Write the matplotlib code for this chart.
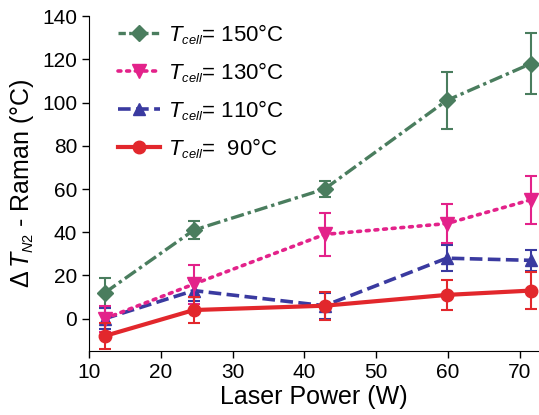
import numpy as np
import matplotlib
matplotlib.use("Agg")
import matplotlib.pyplot as plt
import matplotlib._mathtext as mtext

plt.rcParams['font.family'] = ['Liberation Sans', 'DejaVu Sans']
plt.rcParams['mathtext.fontset'] = 'custom'
plt.rcParams['mathtext.rm'] = 'Liberation Sans'
plt.rcParams['mathtext.it'] = 'Liberation Sans:italic'
# smaller subscripts, like the original figure
mtext.SHRINK_FACTOR = 0.58

# laser power (W)
power = [12.2, 24.6, 42.8, 59.8, 71.5]

# temperature difference and error bars for each cell temperature
t150 = [12, 41, 60, 101, 118]
e150 = [7, 4, 3.5, 13, 14]
t130 = [0, 16, 39, 44, 55]
e130 = [6, 9, 10, 9, 11]
t110 = [0, 13, 6, 28, 27]
e110 = [5, 5, 6, 6, 5]
t90 = [-8, 4, 6, 11, 13]
e90 = [6, 6, 6.5, 7, 8.5]

labels = [r'$T_{cell}$= 150°C', r'$T_{cell}$= 130°C',
          r'$T_{cell}$= 110°C', r'$T_{cell}$=  90°C']

fig = plt.figure(figsize=(5.39, 4.15), dpi=100)
ax = fig.add_axes([0.165, 0.154, 0.833, 0.807])

conts = []
# green, dash-dot, diamonds
conts.append(ax.errorbar(power, t150, yerr=e150, color='#4a7d5e', ls=(0, (4, 1.2, 1, 1.2)),
            lw=2.4, marker='D', ms=8, capsize=4, elinewidth=1.5, capthick=1.5, zorder=3))
# pink, dotted, down triangles
conts.append(ax.errorbar(power, t130, yerr=e130, color='#e3228a', ls=(0, (0.8, 1.6)),
            lw=2.6, marker='v', ms=10, capsize=4, elinewidth=1.5, capthick=1.5,
            dash_capstyle='round', zorder=4))
# blue, dashed, up triangles
conts.append(ax.errorbar(power, t110, yerr=e110, color='#3a3aa0', ls=(0, (3.5, 1.5)),
            lw=2.6, marker='^', ms=9, capsize=4, elinewidth=1.5, capthick=1.5, zorder=3))
# red, solid, circles
conts.append(ax.errorbar(power, t90, yerr=e90, color='#e2272c', ls='-',
            lw=3, marker='o', ms=9, capsize=4, elinewidth=1.5, capthick=1.5, zorder=5))

ax.set_xlim(10, 72.5)
ax.set_ylim(-15, 140)
ax.set_xticks([10, 20, 30, 40, 50, 60, 70])
ax.set_yticks(np.arange(0, 141, 20))
ax.tick_params(labelsize=15, direction='out', length=5, width=1)
ax.spines['top'].set_visible(False)
ax.spines['right'].set_visible(False)
ax.set_xlabel('Laser Power (W)', fontsize=18, labelpad=2)
ax.set_ylabel(r'$\Delta\, T_{N2}$ - Raman (°C)', fontsize=18, labelpad=4)

# legend shows only the lines, no error bars
leg = ax.legend([c[0] for c in conts], labels, loc='upper left', frameon=False,
                fontsize=16, handlelength=1.9, handletextpad=0.35, labelspacing=0.6,
                borderaxespad=0.1, bbox_to_anchor=(0.04, 1.015))
# shorter dashes in the legend so the dash-dot pattern shows
leg.get_lines()[0].set_linestyle((0, (2.2, 1, 0.8, 1)))

fig.savefig('out.png', dpi=100)
